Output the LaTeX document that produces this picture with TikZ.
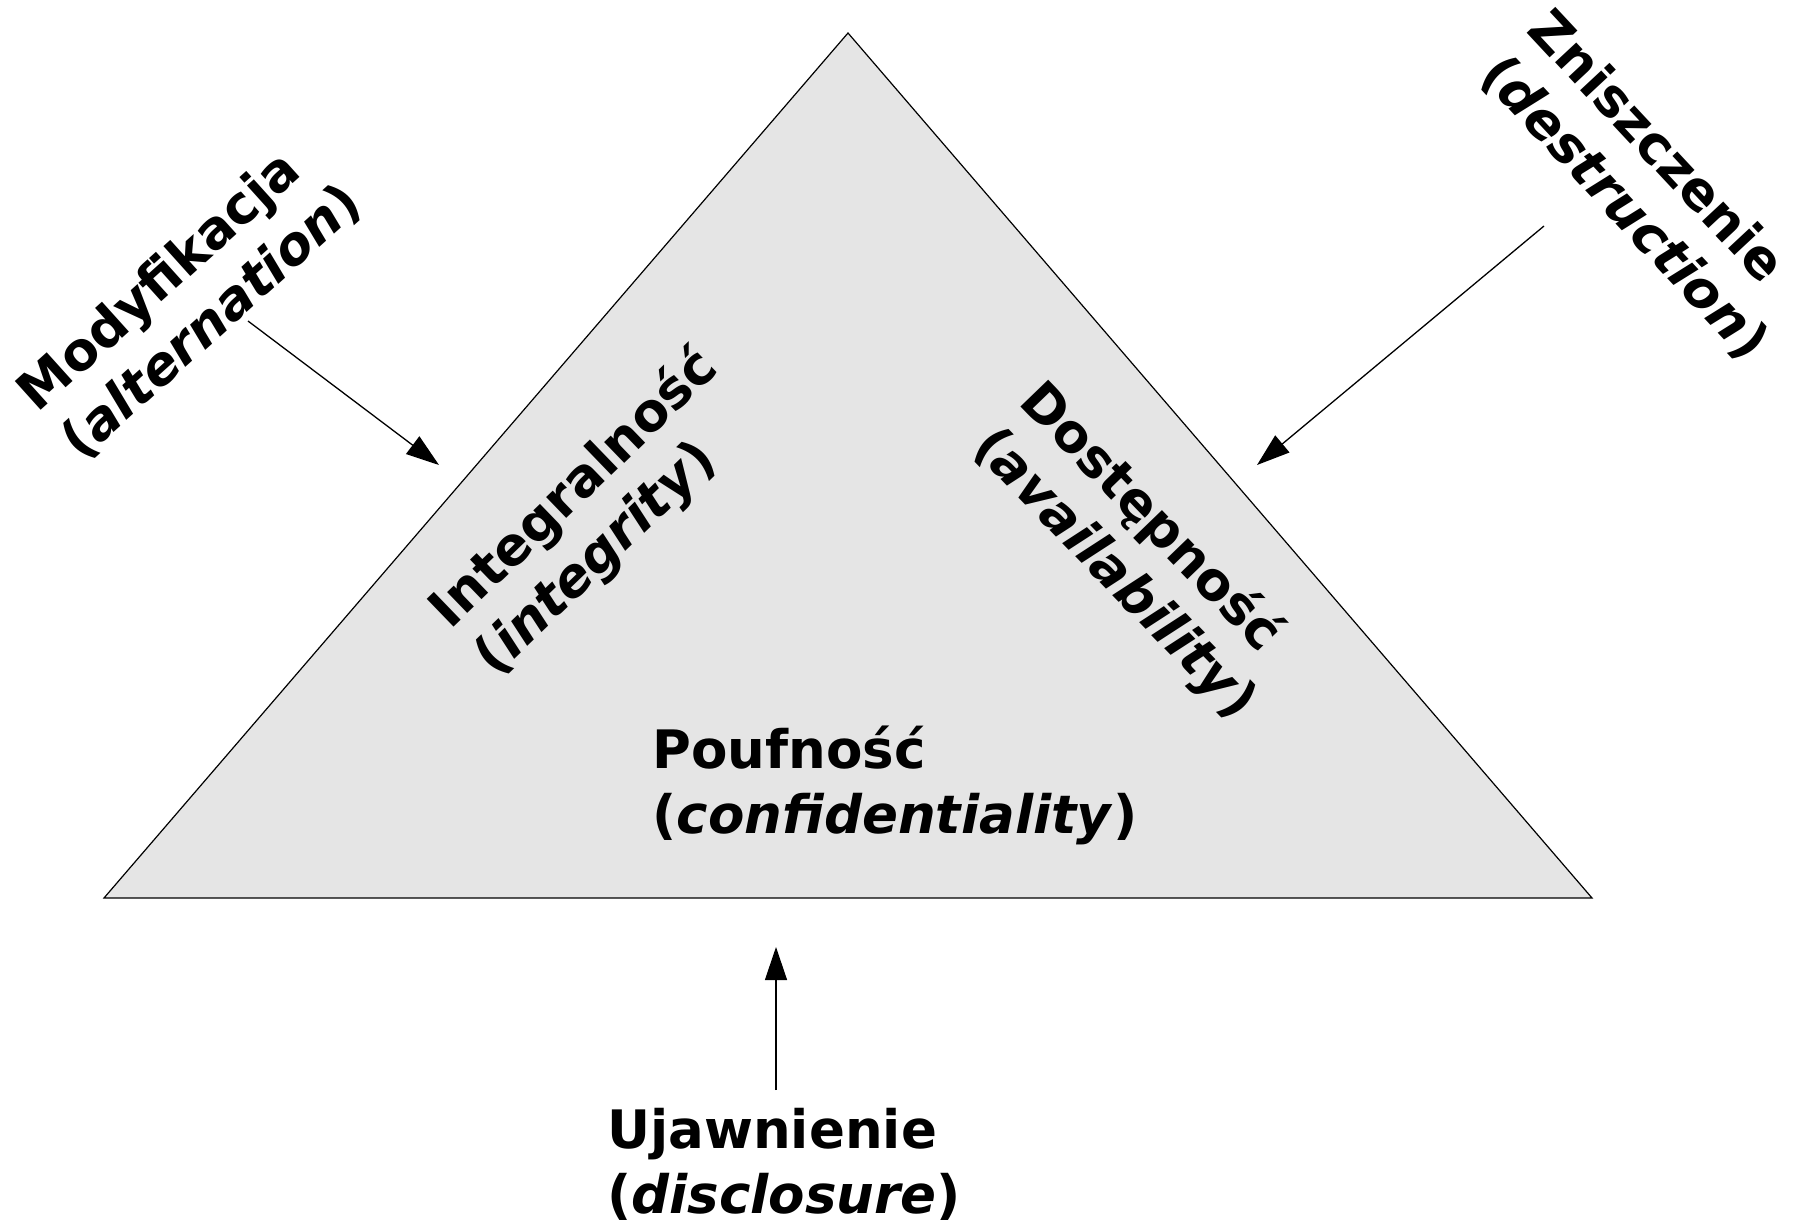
\documentclass[tikz,border=0pt]{standalone}
\usepackage{fontspec}
\setmainfont{DejaVu Sans}
\usetikzlibrary{arrows.meta}
\definecolor{trifill}{HTML}{E5E5E5}
\tikzset{
  lbl/.style={inner sep=0pt, align=left, font=\fontsize{53}{65}\selectfont\bfseries},
  arr/.style={line width=1.3pt, -{Triangle[length=33pt,width=22pt]}},
  tri/.style={fill=trifill, draw=black, line width=1.2pt, line join=miter}
}
\begin{document}
\begin{tikzpicture}[x=1pt,y=-1pt]
\useasboundingbox (0,0) rectangle (1807,1223);
% triangle
\coordinate (A) at (848,33);
\coordinate (B) at (104,898);
\coordinate (C) at (1592,898);
\draw[tri] (A) -- (B) -- (C) -- cycle;
% labels inside
\node[lbl, rotate=44] (integ) at (597,513) {Integralność\\(\textit{integrity})};
\node[lbl, rotate=-46] (dost) at (1138,552) {Dostępność\\(\textit{availability})};
\node[lbl] (pouf) at (895,785) {Poufność\\(\textit{confidentiality})};
% threats
\node[lbl, rotate=42] (mod) at (190,298) {Modyfikacja\\(\textit{alternation})};
\node[lbl, rotate=-47] (znisz) at (1648,186) {Zniszczenie\\(\textit{destruction})};
\node[lbl] (ujaw) at (784,1164) {Ujawnienie\\(\textit{disclosure})};
% arrows
\coordinate (m1) at (248,321);
\coordinate (m2) at (439,465);
\coordinate (z1) at (1544,226);
\coordinate (z2) at (1257,465);
\coordinate (u1) at (776,1090);
\coordinate (u2) at (776,947);
\draw[arr] (m1) -- (m2);
\draw[arr] (z1) -- (z2);
\draw[arr] (u1) -- (u2);
\end{tikzpicture}
\end{document}
